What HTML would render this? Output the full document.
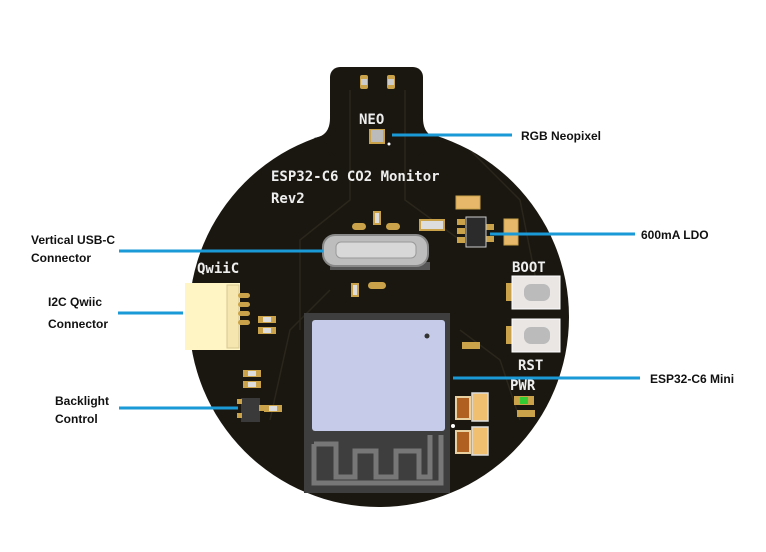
<!DOCTYPE html>
<html><head><style>
html,body{margin:0;padding:0;background:#fff;}
svg{display:block;}
.lbl{font-family:"Liberation Sans",sans-serif;font-weight:bold;font-size:12px;fill:#111;}
.silk{font-family:"DejaVu Sans Mono","Liberation Mono",monospace;font-weight:bold;font-size:14px;fill:#eee;}
</style></head><body>
<svg width="766" height="552" viewBox="0 0 766 552" xmlns="http://www.w3.org/2000/svg">
<defs>
<clipPath id="pcb"><circle cx="379" cy="317" r="190"/><rect x="330" y="67" width="93" height="90" rx="10"/></clipPath>
</defs>
<!-- board -->
<g fill="#1a1710">
<circle cx="379" cy="317" r="190"/>
<rect x="330" y="67" width="93" height="90" rx="10"/>
<path d="M314 138 Q330 136 330 118 L330 145 Z"/>
<path d="M439 138 Q423 136 423 118 L423 145 Z"/>
</g>
<g stroke="#2a261c" stroke-width="1.5" fill="none" clip-path="url(#pcb)">
<path d="M350 90 L350 200 L300 240 L300 330"/>
<path d="M405 90 L405 200 L460 240"/>
<path d="M470 150 L520 200 L540 300"/>
<path d="M330 290 L290 330 L270 420"/>
<path d="M460 330 L500 360 L520 420"/>
</g>
<!-- tab pads -->
<rect x="360" y="75" width="8" height="14" rx="2" fill="#c9a24a"/><rect x="361" y="79" width="6" height="6" fill="#ccc"/>
<rect x="387" y="75" width="8" height="14" rx="2" fill="#c9a24a"/><rect x="388" y="79" width="6" height="6" fill="#ccc"/>
<text x="359" y="124" class="silk" font-size="15">NEO</text>
<rect x="369" y="129" width="16" height="15" fill="#c9a24a"/><rect x="371" y="130" width="12" height="12" fill="#bbb"/>
<circle cx="389" cy="144" r="1.5" fill="#fff"/>
<text x="271" y="181" class="silk" font-size="17.5">ESP32-C6 CO2 Monitor</text>
<text x="271" y="203" class="silk" font-size="17.5">Rev2</text>
<!-- USB-C -->
<rect x="352" y="223" width="14" height="7" rx="3.5" fill="#c9a24a"/>
<rect x="386" y="223" width="14" height="7" rx="3.5" fill="#c9a24a"/>
<rect x="374" y="212" width="6" height="12" fill="#ddd" stroke="#c9a24a" stroke-width="2"/>
<rect x="420" y="220" width="24" height="10" fill="#ddd" stroke="#c9a24a" stroke-width="2"/>
<rect x="330" y="262" width="100" height="8" fill="#555"/>
<rect x="323" y="235" width="105" height="31" rx="12" fill="#bdbdbd" stroke="#888" stroke-width="2"/>
<rect x="336" y="242" width="80" height="16" rx="5" fill="#d8d8d8" stroke="#999"/>
<rect x="368" y="282" width="18" height="7" rx="3.5" fill="#c9a24a"/>
<rect x="352" y="284" width="6" height="12" fill="#ddd" stroke="#c9a24a" stroke-width="2"/>
<!-- LDO -->
<rect x="456" y="196" width="24" height="13" fill="#e8b86a" stroke="#c9a24a"/>
<rect x="457" y="219" width="8" height="6" fill="#c9a24a"/><rect x="457" y="228" width="8" height="6" fill="#c9a24a"/><rect x="457" y="237" width="8" height="6" fill="#c9a24a"/>
<rect x="486" y="224" width="8" height="6" fill="#c9a24a"/><rect x="486" y="236" width="8" height="6" fill="#c9a24a"/>
<rect x="466" y="217" width="20" height="30" fill="#2b2b2b" stroke="#ccc" stroke-width="1"/>
<rect x="504" y="219" width="14" height="26" fill="#e8b86a" stroke="#c9a24a"/>
<!-- QwiiC -->
<text x="197" y="273" class="silk" font-size="14.5">QwiiC</text>
<rect x="185" y="283" width="55" height="67" fill="#fff4c4"/>
<rect x="227" y="285" width="12" height="63" fill="#f5e6b0" stroke="#d8c890"/>
<g fill="#c9a24a"><rect x="238" y="293" width="12" height="5" rx="2.5"/><rect x="238" y="302" width="12" height="5" rx="2.5"/><rect x="238" y="311" width="12" height="5" rx="2.5"/><rect x="238" y="320" width="12" height="5" rx="2.5"/></g>
<g fill="#c9a24a"><rect x="258" y="316" width="18" height="7"/><rect x="258" y="327" width="18" height="7"/><rect x="243" y="370" width="18" height="7"/><rect x="243" y="381" width="18" height="7"/><rect x="264" y="405" width="18" height="7"/><rect x="462" y="342" width="18" height="7"/><rect x="517" y="410" width="18" height="7"/></g>
<g fill="#ddd"><rect x="263" y="317" width="8" height="5"/><rect x="263" y="328" width="8" height="5"/><rect x="248" y="371" width="8" height="5"/><rect x="248" y="382" width="8" height="5"/><rect x="269" y="406" width="8" height="5"/></g>
<!-- backlight transistor -->
<rect x="241" y="398" width="19" height="24" fill="#3a3a3a"/>
<rect x="237" y="399" width="5" height="5" fill="#c9a24a"/><rect x="237" y="413" width="5" height="5" fill="#c9a24a"/><rect x="259" y="405" width="5" height="6" fill="#c9a24a"/>
<!-- buttons -->
<text x="512" y="272" class="silk" font-size="16">BOOT</text>
<rect x="506" y="283" width="6" height="18" fill="#c9a24a"/>
<rect x="512" y="276" width="48" height="33" fill="#e9e6e4" stroke="#fff"/>
<rect x="524" y="284" width="26" height="17" rx="7" fill="#bbb"/>
<rect x="506" y="326" width="6" height="18" fill="#c9a24a"/>
<rect x="512" y="319" width="48" height="33" fill="#e9e6e4" stroke="#fff"/>
<rect x="524" y="327" width="26" height="17" rx="7" fill="#bbb"/>
<text x="518" y="370" class="silk" font-size="16">RST</text>
<text x="510" y="390" class="silk" font-size="16">PWR</text>
<rect x="514" y="396" width="20" height="9" fill="#c9a24a"/><rect x="520" y="397" width="8" height="7" fill="#3c3"/>
<!-- caps near module -->
<rect x="456" y="397" width="14" height="22" fill="#b06020" stroke="#e8d0a0" stroke-width="2"/>
<rect x="472" y="393" width="16" height="28" fill="#f0c070" stroke="#ddd" stroke-width="1.5"/>
<rect x="456" y="431" width="14" height="22" fill="#b06020" stroke="#e8d0a0" stroke-width="2"/>
<rect x="472" y="427" width="16" height="28" fill="#f0c070" stroke="#ddd" stroke-width="1.5"/>
<!-- module -->
<rect x="304" y="313" width="146" height="180" fill="#3e3e3e"/>
<rect x="312" y="320" width="133" height="111" rx="3" fill="#c5cbe8"/>
<circle cx="427" cy="336" r="2.5" fill="#333"/>
<path d="M314 444 L314 483 L441 483 L441 435 M314 444 L336 444 L336 477 L355 477 L355 451 L376 451 L376 477 L396 477 L396 451 L419 451 L419 477 L430 477 L430 435" fill="none" stroke="#777" stroke-width="5"/>
<circle cx="453" cy="426" r="2" fill="#fff"/>
<!-- callout lines -->
<g stroke="#1a9ad6" stroke-width="3">
<line x1="392" y1="135" x2="512" y2="135"/>
<line x1="119" y1="251" x2="323" y2="251"/>
<line x1="490" y1="234" x2="635" y2="234"/>
<line x1="118" y1="313" x2="183" y2="313"/>
<line x1="119" y1="408" x2="238" y2="408"/>
<line x1="453" y1="378" x2="640" y2="378"/>
</g>
<text x="521" y="140" class="lbl">RGB Neopixel</text>
<text x="641" y="239" class="lbl">600mA LDO</text>
<text x="650" y="383" class="lbl">ESP32-C6 Mini</text>
<text x="31" y="244" class="lbl">Vertical USB-C</text>
<text x="31" y="262" class="lbl">Connector</text>
<text x="48" y="306" class="lbl">I2C Qwiic</text>
<text x="48" y="328" class="lbl">Connector</text>
<text x="55" y="405" class="lbl">Backlight</text>
<text x="55" y="423" class="lbl">Control</text>
</svg>
</body></html>
